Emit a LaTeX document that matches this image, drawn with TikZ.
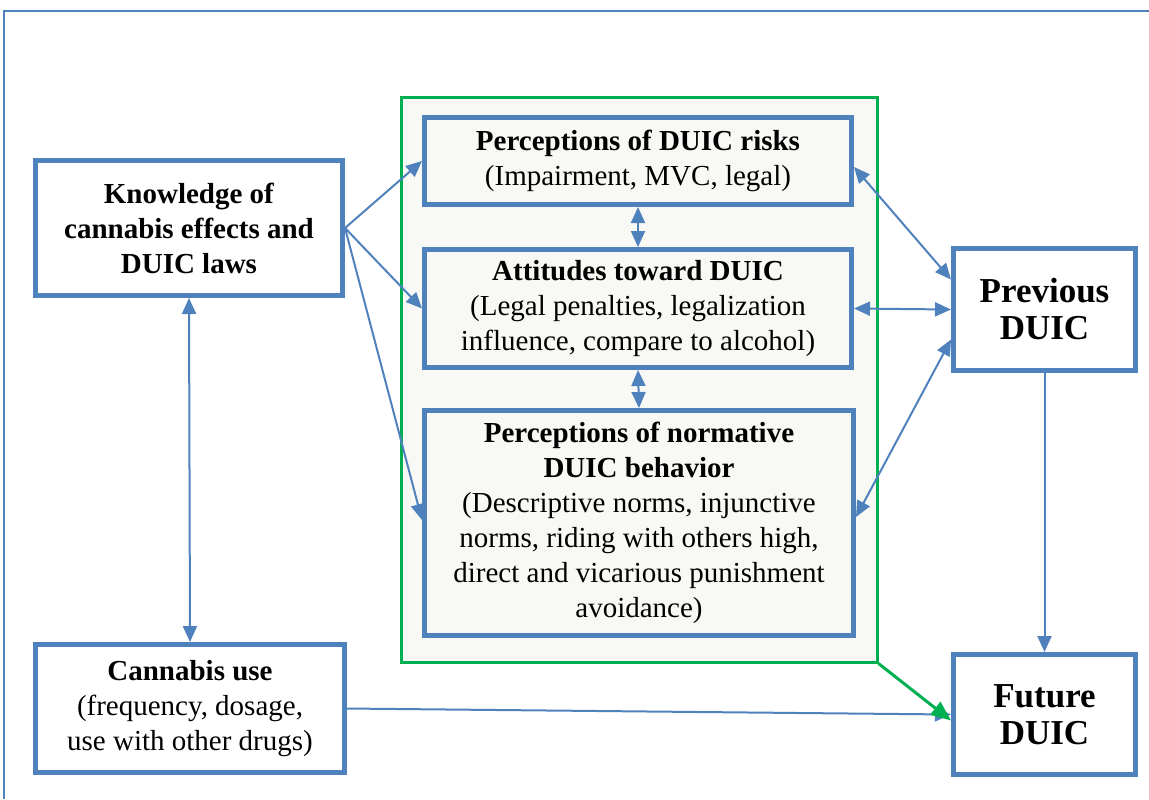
\documentclass[tikz,border=0pt]{standalone}
\usepackage{fontspec}
\setmainfont{Liberation Serif}
\usetikzlibrary{arrows.meta,positioning,calc,backgrounds,fit}
\definecolor{BLUE}{HTML}{4F81BD}
\definecolor{GREEN}{HTML}{00B050}
\definecolor{PALE}{HTML}{F8F9F4}

\begin{document}
\begin{tikzpicture}[x=0.5pt,y=-0.5pt]
\tikzstyle{myEdge}=[draw=BLUE,line width=1pt,>={Triangle[length=8pt,width=7pt]}]
\tikzstyle{box}=[draw=BLUE,line width=2.5pt,fill=white,align=center,inner sep=2pt,font=\rmfamily\fontsize{14.5}{17.5}\selectfont]
\tikzstyle{inbox}=[box,fill=PALE]
\tikzstyle{duic}=[box,font=\rmfamily\fontsize{17.5}{18.5}\selectfont\bfseries]

\useasboundingbox (0,0) rectangle (1149,799);
% outer frame
\draw[BLUE,line width=1pt] (4,799) -- (4,11) -- (1149,11);

% left column
\node[box,minimum width=153.5pt,minimum height=67.5pt] (know) at (189,228)
  {\textbf{Knowledge of}\\\textbf{cannabis effects and}\\\textbf{DUIC laws}};
\node[box,minimum width=154.5pt,minimum height=64pt] (use) at (190,708.5)
  {\textbf{Cannabis use}\\(frequency, dosage,\\use with other drugs)};

% middle group
\node[inbox,minimum width=213.5pt,minimum height=43.5pt] (risk) at (638,161)
  {\textbf{Perceptions of DUIC risks}\\(Impairment, MVC, legal)};
\node[inbox,minimum width=213.5pt,minimum height=59pt] (att) at (638,308.5)
  {\textbf{Attitudes toward DUIC}\\(Legal penalties, legalization\\influence, compare to alcohol)};
\node[inbox,minimum width=214.5pt,minimum height=112.5pt] (norm) at (639,523)
  {\textbf{Perceptions of normative}\\\textbf{DUIC behavior}\\(Descriptive norms, injunctive\\norms, riding with others high,\\direct and vicarious punishment\\avoidance)};

% right column
\node[duic,minimum width=91pt,minimum height=61pt] (prev) at (1044.5,309.5) {Previous\\DUIC};
\node[duic,minimum width=91pt,minimum height=60pt] (fut) at (1044.5,714.5) {Future\\DUIC};

\begin{scope}[on background layer]
\node[draw=GREEN,line width=1.5pt,fill=PALE,inner sep=10.5pt,yshift=-1.5pt,fit=(risk)(att)(norm)] (grp) {};
\end{scope}

% connectors
\draw[myEdge,->] (know.east) -- (risk.west);
\draw[myEdge,->] (know.east) -- (att.west);
\draw[myEdge,->] (know.east) -- ([yshift=1.5pt]norm.west);
\draw[myEdge,<->] (know.south) -- (use.north);
\draw[myEdge,<->] (risk.south) -- (att.north);
\draw[myEdge,<->] (att.south) -- (norm.north);
\draw[myEdge,<->] ([yshift=-3pt]risk.east) -- ([yshift=15pt]prev.west);
\draw[myEdge,<->] (att.east) -- (prev.west);
\draw[myEdge,<->] ([yshift=3pt]norm.east) -- ([yshift=-15pt]prev.west);
\draw[myEdge,->] (prev.south) -- (fut.north);
\draw[myEdge,->] (use.east) -- (fut.west);
\draw[myEdge,draw=GREEN,line width=1.5pt,->,>={Triangle[length=10pt,width=8pt]}] (grp.south east) -- ([yshift=-3pt]fut.west);
\end{tikzpicture}
\end{document}
